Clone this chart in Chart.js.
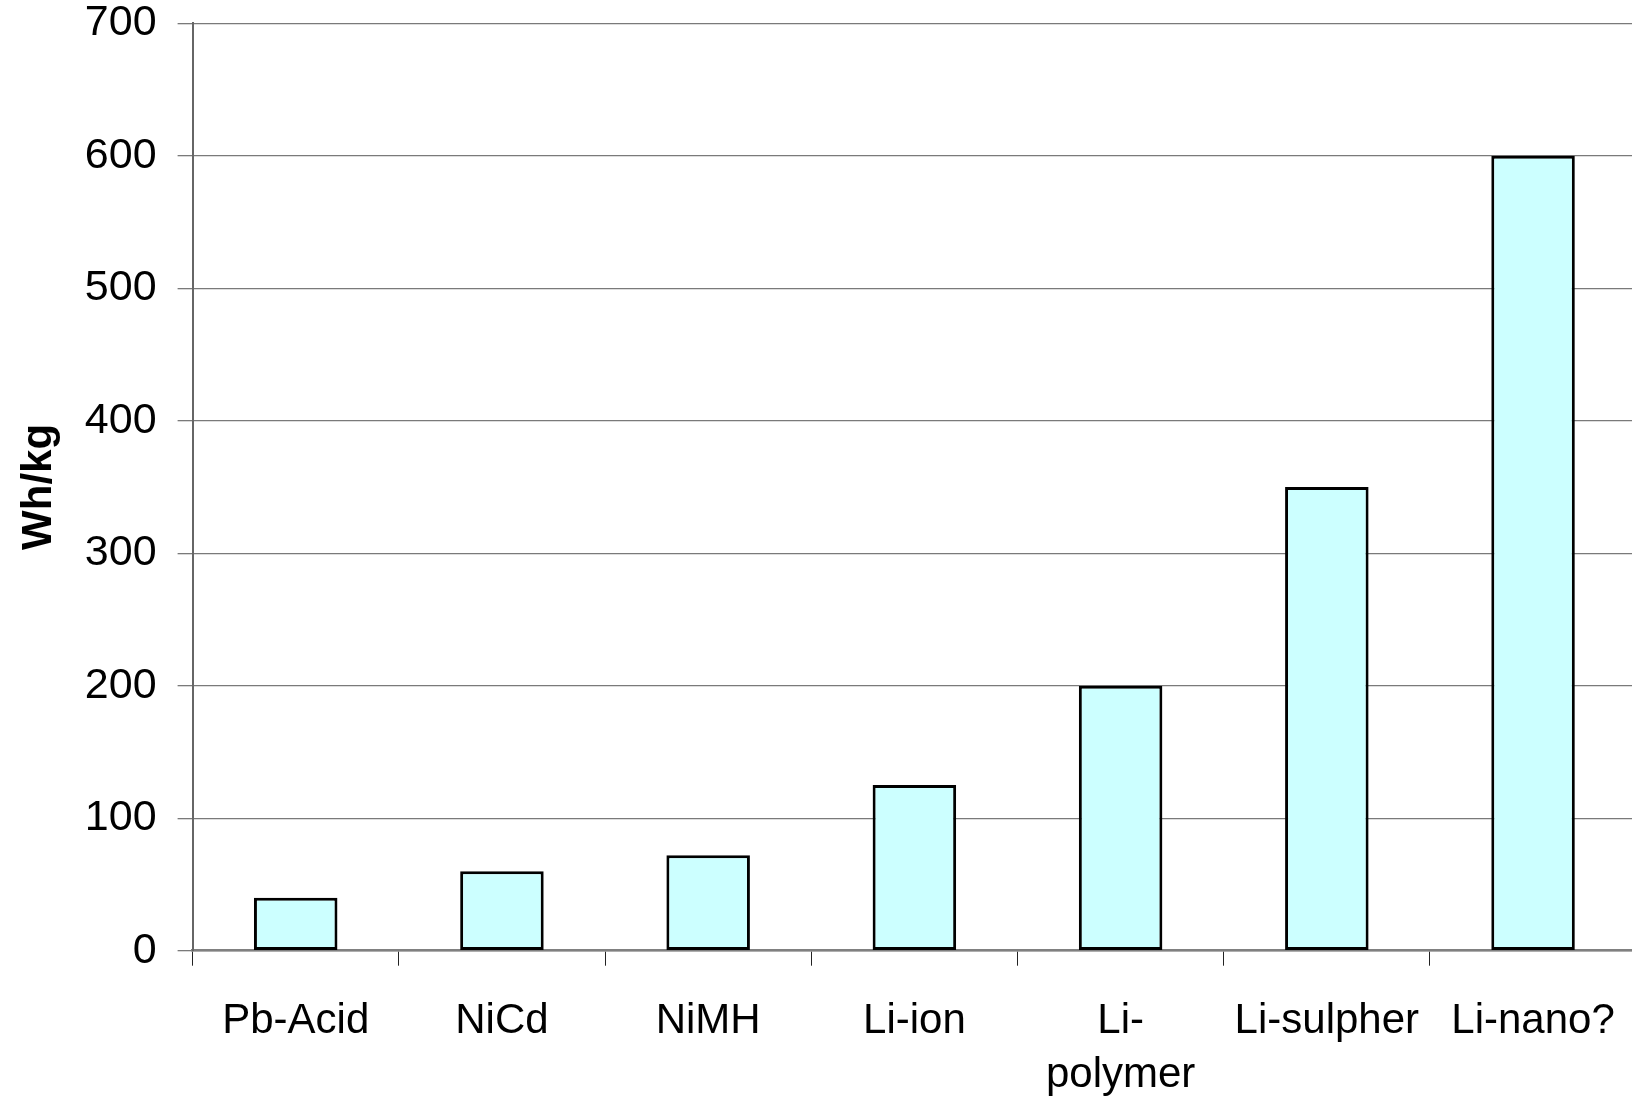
<!DOCTYPE html>
<html>
<head>
<meta charset="utf-8">
<script src="https://cdn.jsdelivr.net/npm/chart.js@4/dist/chart.umd.min.js"></script>
<style>
  html, body { margin: 0; padding: 0; background: #fff; overflow: hidden; }
  #wrap { position: relative; width: 1643px; height: 1101px; }
</style>
</head>
<body>
<div id="wrap"><canvas id="c"></canvas></div>
<script>
// Specific energy of battery chemistries
const categories = ['Pb-Acid', 'NiCd', 'NiMH', 'Li-ion', ['Li-', 'polymer'], 'Li-sulpher', 'Li-nano?'];
const energyWhPerKg = [40, 60, 72, 125, 200, 350, 600];
const yTicks = [0, 100, 200, 300, 400, 500, 600, 700];

const FONT = '"Liberation Sans", Arial, sans-serif';

new Chart(document.getElementById('c'), {
  type: 'bar',
  data: {
    labels: categories,
    datasets: [{
      data: energyWhPerKg,
      backgroundColor: '#CCFFFF',
      borderColor: '#000000',
      borderWidth: 3,
      borderSkipped: false,
      barPercentage: 0.405,
      categoryPercentage: 1.0
    }]
  },
  options: {
    responsive: true,
    maintainAspectRatio: false,
    animation: false,
    layout: { padding: { top: 0, right: 3, left: 0, bottom: 0 } },
    plugins: { legend: { display: false }, tooltip: { enabled: false } },
    scales: {
      x: {
        grid: {
          offset: true,
          drawOnChartArea: false,
          drawTicks: true,
          tickLength: 15,
          color: '#222',
          lineWidth: 1
        },
        border: { display: true, color: '#808080', width: 2.5 },
        ticks: {
          color: '#000',
          maxRotation: 0,
          autoSkip: false,
          padding: 28,
          font: { family: FONT, size: 42, lineHeight: 1.3 }
        },
        afterFit: (s) => { s.height = 150.3; }
      },
      y: {
        min: 0,
        max: 700,
        afterBuildTicks: (s) => { s.ticks = yTicks.map(v => ({ value: v })); },
        grid: {
          color: '#7a7a7a',
          lineWidth: 1.3,
          drawTicks: true,
          tickLength: 15
        },
        border: { display: true, color: '#666', width: 2 },
        ticks: {
          color: '#000',
          padding: 21,
          font: { family: FONT, size: 43, lineHeight: 0.1 }
        },
        title: {
          display: true,
          text: 'Wh/kg',
          color: '#000',
          padding: { top: 18, bottom: 0 },
          font: { family: FONT, size: 42, weight: 'bold', lineHeight: 1.0 }
        },
        afterFit: (s) => { s.width = 192.6; }
      }
    }
  }
});
</script>
</body>
</html>
